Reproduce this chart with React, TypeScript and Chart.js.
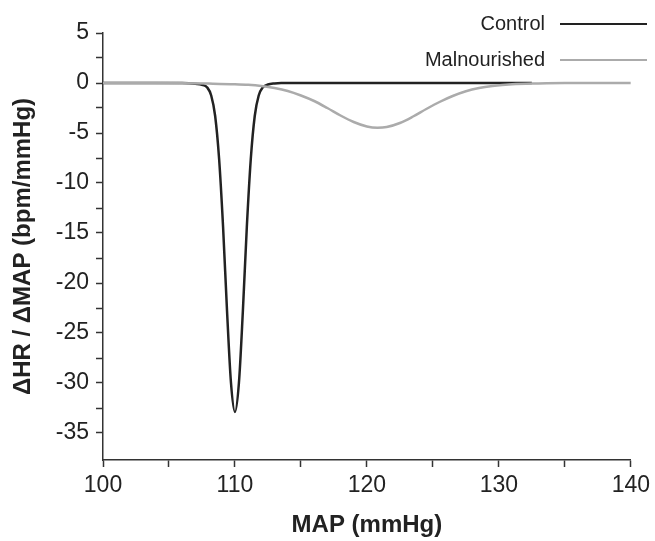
import React, { useEffect, useRef } from "react";
import { Chart, registerables } from "chart.js";

Chart.register(...registerables);

// ---- Data ----
const controlX = [100, 104, 106, 106.5, 107, 107.5, 107.9, 108.2, 108.5, 108.8, 109.1, 109.4, 109.7, 110, 110.3, 110.6, 110.9, 111.2, 111.5, 111.8, 112.1, 112.5, 113, 113.5, 114, 120, 126, 132.5];
const controlY = [0, 0, 0, -0.02, -0.08, -0.18, -0.45, -1.25, -3.3, -7.6, -14.4, -22.8, -30.0, -32.9, -30.0, -22.8, -14.4, -7.6, -3.3, -1.25, -0.45, -0.15, -0.04, 0, 0, 0, 0, 0];

const malX = [100, 104, 106, 108, 110, 111, 112, 113, 114, 115, 116, 117, 118, 119, 120, 120.8, 121.5, 122.5, 123.5, 124.5, 125.5, 126.5, 127.5, 128.5, 129.5, 131, 133, 135, 140];
const malY = [0, 0, -0.02, -0.06, -0.12, -0.18, -0.3, -0.5, -0.8, -1.25, -1.8, -2.5, -3.25, -3.9, -4.35, -4.47, -4.4, -4.0, -3.35, -2.6, -1.9, -1.3, -0.82, -0.5, -0.3, -0.12, -0.04, 0, 0];

const seriesNames = ["Control", "Malnourished"];
const seriesColors = ["#222222", "#ababab"];

const xTickValues = [100, 105, 110, 115, 120, 125, 130, 135, 140];
const yTickValues = [5, 2.5, 0, -2.5, -5, -7.5, -10, -12.5, -15, -17.5, -20, -22.5, -25, -27.5, -30, -32.5, -35];

const xTitle = "MAP (mmHg)";
const yTitle = "ΔHR / ΔMAP (bpm/mmHg)";

const FONT = "'Liberation Sans', Arial, Helvetica, sans-serif";

const legendPlugin = {
  id: "customLegend",
  afterDraw(chart: any) {
    const ctx = chart.ctx;
    ctx.save();
    ctx.font = `20px ${FONT}`;
    ctx.textAlign = "right";
    ctx.textBaseline = "middle";
    const rows = [24, 60];
    seriesNames.forEach((name, i) => {
      const y = rows[i];
      ctx.fillStyle = "#222222";
      ctx.fillText(name, 545, y);
      ctx.strokeStyle = seriesColors[i];
      ctx.lineWidth = 2;
      ctx.beginPath();
      ctx.moveTo(560, y);
      ctx.lineTo(647, y);
      ctx.stroke();
    });
    ctx.restore();
  },
};

export default function App() {
  const ref = useRef<HTMLCanvasElement | null>(null);

  useEffect(() => {
    if (!ref.current) return;
    const chart = new Chart(ref.current, {
      type: "line",
      data: {
        datasets: [
          {
            label: seriesNames[0],
            data: controlX.map((x, i) => ({ x, y: controlY[i] })),
            borderColor: seriesColors[0],
            borderWidth: 2.5,
            pointRadius: 0,
            cubicInterpolationMode: "monotone",
            fill: false,
            order: 1,
          },
          {
            label: seriesNames[1],
            data: malX.map((x, i) => ({ x, y: malY[i] })),
            borderColor: seriesColors[1],
            borderWidth: 2.5,
            pointRadius: 0,
            cubicInterpolationMode: "monotone",
            fill: false,
            order: 0,
          },
        ],
      },
      options: {
        animation: false,
        responsive: true,
        maintainAspectRatio: false,
        layout: { padding: { top: 33, right: 24, left: 0, bottom: 0 } },
        plugins: { legend: { display: false }, tooltip: { enabled: false } },
        scales: {
          x: {
            type: "linear",
            min: 100,
            max: 140,
            afterBuildTicks: (scale: any) => {
              scale.ticks = xTickValues.map((v) => ({ value: v }));
            },
            afterFit: (scale: any) => {
              scale.height = 81;
            },
            ticks: {
              autoSkip: false,
              maxRotation: 0,
              padding: 5,
              color: "#222222",
              font: { family: FONT, size: 23 },
              callback: (v: any) => (Number(v) % 10 === 0 ? String(v) : ""),
            },
            grid: {
              drawOnChartArea: false,
              drawTicks: true,
              tickLength: 7,
              tickColor: "#333333",
              tickWidth: 1.5,
            },
            border: { color: "#333333", width: 1.5 },
            title: {
              display: true,
              text: xTitle,
              color: "#222222",
              font: { family: FONT, size: 24, weight: "bold" },
              padding: { top: 0, bottom: 1 },
            },
          },
          y: {
            type: "linear",
            min: -37.7,
            max: 5,
            afterBuildTicks: (scale: any) => {
              scale.ticks = yTickValues.map((v) => ({ value: v }));
            },
            afterFit: (scale: any) => {
              scale.width = 103;
            },
            ticks: {
              autoSkip: false,
              padding: 7,
              color: "#222222",
              font: { family: FONT, size: 23 },
              callback: (v: any) => (Number(v) % 5 === 0 ? String(v) : ""),
            },
            grid: {
              drawOnChartArea: false,
              drawTicks: true,
              tickLength: 7,
              tickColor: "#333333",
              tickWidth: 1.5,
            },
            border: { color: "#333333", width: 1.5 },
            title: {
              display: true,
              text: yTitle,
              color: "#222222",
              font: { family: FONT, size: 24, weight: "bold" },
              padding: { top: 9, bottom: 0 },
            },
          },
        },
      },
      plugins: [legendPlugin],
    });
    return () => chart.destroy();
  }, []);

  return (
    <div style={{ position: "fixed", left: 0, top: 0, width: 655, height: 541, background: "#ffffff" }}>
      <canvas ref={ref} />
    </div>
  );
}
